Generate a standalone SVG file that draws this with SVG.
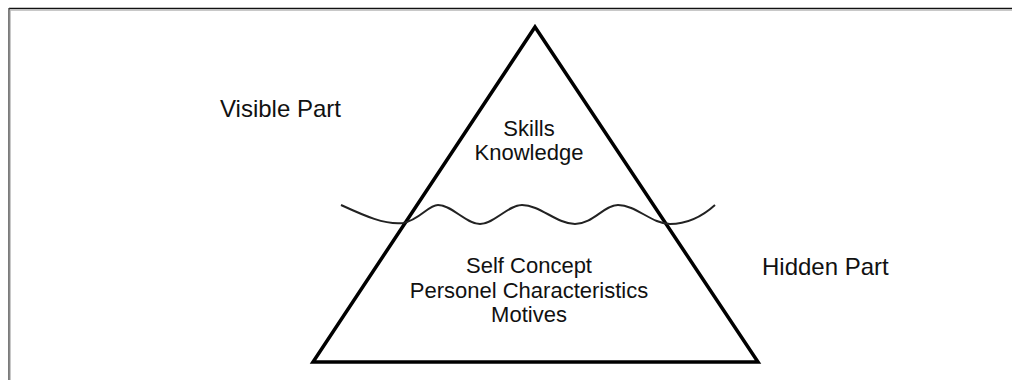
<svg xmlns="http://www.w3.org/2000/svg" width="1012" height="380" viewBox="0 0 1012 380">
<style>
.lbl{font-family:"Liberation Sans",Arial,sans-serif;fill:#111}
.side{font-size:24px}
.in{font-size:22px;text-anchor:middle}
</style>
<rect width="1012" height="380" fill="#fff"/>
<g id="frame">
<line x1="9" y1="8.5" x2="1012" y2="8.5" stroke="#111" stroke-width="1.6"/>
<line x1="10" y1="10.3" x2="1012" y2="10.3" stroke="#bbb" stroke-width="1"/>
<line x1="9" y1="8" x2="9" y2="380" stroke="#444" stroke-width="1.4"/>
<line x1="10.3" y1="10" x2="10.3" y2="380" stroke="#bbb" stroke-width="1"/>
</g>
<g id="iceberg">
<polygon points="535,27 758,362 313,362" fill="none" stroke="#000" stroke-width="3.5" stroke-linejoin="miter"/>
</g>
<g id="connectors">
<path id="waterline" d="M341,205 C365,216 385,225 403,223 C420,220 428,205 438,205 C452,205 466,224 480,224 C494,224 508,205 522,205 C540,205 557,224 575,224 C593,224 604,205 618,205 C636,205 652,224 670,224 C690,224 705,214 715,205" fill="none" stroke="#222" stroke-width="2"/>
</g>
<g id="visible-label"><text class="lbl side" x="220" y="117">Visible Part</text></g>
<g id="hidden-label"><text class="lbl side" x="762" y="275">Hidden Part</text></g>
<g id="visible-content">
<text class="lbl in" x="529" y="136">Skills</text>
<text class="lbl in" x="529" y="160">Knowledge</text>
</g>
<g id="hidden-content">
<text class="lbl in" x="529" y="273">Self Concept</text>
<text class="lbl in" x="529" y="298">Personel Characteristics</text>
<text class="lbl in" x="529" y="322">Motives</text>
</g>
</svg>
